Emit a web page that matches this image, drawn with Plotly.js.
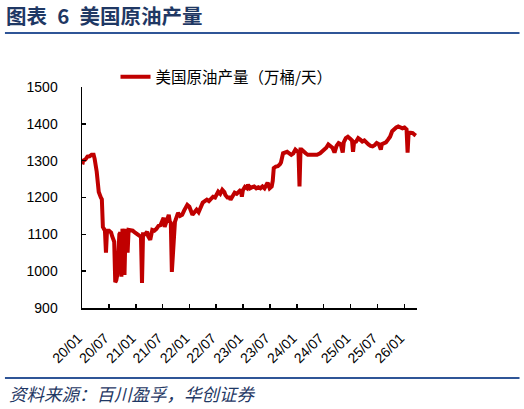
<!DOCTYPE html>
<html>
<head>
<meta charset="utf-8">
<script src="https://cdn.plot.ly/plotly-3.0.1.min.js"></script>
<style>html,body{margin:0;padding:0;background:#fff;}#chart{width:524px;height:409px;}</style>
</head>
<body>
<div id="chart"></div>
<script>
const seriesName = "美国原油产量（万桶/天）";
const chartTitle = "图表\u20026\u2002美国原油产量";
const sourceText = "资料来源：百川盈孚，华创证券";

const dates = [
"2020-01-03","2020-01-10","2020-01-24","2020-02-07","2020-02-21","2020-03-06","2020-03-20","2020-03-27",
"2020-04-10","2020-04-17","2020-04-24","2020-05-08","2020-05-15","2020-05-22","2020-05-29","2020-06-05",
"2020-06-12","2020-06-19","2020-07-03","2020-07-17","2020-07-24","2020-07-31","2020-08-07","2020-08-14",
"2020-08-21","2020-08-28","2020-09-04","2020-09-11","2020-09-18","2020-09-25","2020-10-02","2020-10-09",
"2020-10-16","2020-10-23","2020-10-30","2020-11-06","2020-11-13","2020-11-27","2020-12-11","2020-12-25",
"2021-01-08","2021-01-22","2021-02-05","2021-02-12","2021-02-19","2021-03-05","2021-03-19","2021-03-26",
"2021-04-09","2021-04-23","2021-05-07","2021-05-21","2021-06-04","2021-06-18","2021-07-02","2021-07-09",
"2021-07-16","2021-07-30","2021-08-13","2021-08-20","2021-08-27","2021-09-03","2021-09-17","2021-09-24",
"2021-10-08","2021-10-15","2021-10-29","2021-11-12","2021-11-26","2021-12-10","2021-12-17","2021-12-31",
"2022-01-07","2022-01-21","2022-02-04","2022-02-18","2022-03-04","2022-03-18","2022-04-01","2022-04-15",
"2022-04-29","2022-05-13","2022-05-27","2022-06-10","2022-06-24","2022-07-08","2022-07-15","2022-07-29",
"2022-08-12","2022-08-26","2022-09-02","2022-09-16","2022-09-30","2022-10-07","2022-10-21","2022-11-04",
"2022-11-18","2022-12-02","2022-12-16","2022-12-23","2022-12-30","2023-01-13","2023-01-27","2023-02-03",
"2023-02-17","2023-03-03","2023-03-17","2023-03-31","2023-04-14","2023-04-28","2023-05-12","2023-05-26",
"2023-06-09","2023-06-16","2023-06-30","2023-07-14","2023-07-21","2023-07-28","2023-08-11","2023-08-25",
"2023-09-08","2023-09-15","2023-09-29","2023-10-13","2023-10-27","2023-11-10","2023-11-24","2023-12-08",
"2023-12-22","2024-01-05","2024-01-12","2024-01-19","2024-01-26","2024-02-02","2024-02-16","2024-03-01",
"2024-03-15","2024-04-05","2024-04-26","2024-05-17","2024-06-07","2024-06-21","2024-07-05","2024-07-19",
"2024-08-02","2024-08-16","2024-08-30","2024-09-13","2024-09-27","2024-10-11","2024-10-25","2024-11-08",
"2024-11-15","2024-11-29","2024-12-13","2024-12-27","2025-01-10","2025-01-17","2025-01-24","2025-02-07",
"2025-02-21","2025-03-07","2025-03-21","2025-04-04","2025-04-18","2025-05-02","2025-05-16","2025-05-30",
"2025-06-13","2025-06-27","2025-07-11","2025-07-25","2025-08-01","2025-08-15","2025-08-29","2025-09-12",
"2025-09-26","2025-10-10","2025-10-24","2025-11-07","2025-11-21","2025-12-05","2025-12-19","2026-01-02",
"2026-01-16","2026-01-23","2026-01-30","2026-02-13","2026-02-27","2026-03-13","2026-03-20"
];

const production = [
1290,1300,1303,1311,1312,1316,1316,1305,
1270,1240,1215,1200,1195,1120,1115,1110,
1050,1110,1110,1105,1095,1085,1080,970,
975,990,1093,1100,1105,985,1115,1100,
990,1110,1110,1050,1112,1110,1110,1105,
1100,1095,1093,968,1100,1100,1107,1095,
1085,1112,1110,1115,1123,1125,1140,1145,
1120,1135,1153,1135,1131,998,1110,1134,
1150,1158,1150,1153,1165,1175,1180,1175,
1167,1153,1160,1167,1160,1175,1186,1190,
1194,1190,1195,1202,1200,1210,1216,1210,
1221,1215,1207,1200,1200,1194,1205,1213,
1210,1215,1221,1202,1220,1229,1225,1235,
1225,1228,1230,1225,1228,1225,1230,1225,
1235,1240,1225,1230,1245,1280,1284,1285,
1290,1295,1320,1322,1324,1320,1316,1320,
1330,1325,1325,1230,1330,1330,1324,1320,
1316,1316,1316,1316,1320,1325,1330,1335,
1344,1340,1335,1322,1340,1348,1345,1322,
1350,1361,1365,1360,1355,1324,1350,1352,
1361,1357,1352,1355,1348,1344,1340,1339,
1342,1348,1345,1330,1345,1348,1350,1357,
1365,1380,1386,1390,1393,1390,1388,1390,
1385,1322,1376,1376,1375,1370,1368
];

const tickDates = ["2020-01-01","2020-07-01","2021-01-01","2021-07-01","2022-01-01","2022-07-01","2023-01-01","2023-07-01","2024-01-01","2024-07-01","2025-01-01","2025-07-01","2026-01-01"];
const tickLabels = ["20/01","20/07","21/01","21/07","22/01","22/07","23/01","23/07","24/01","24/07","25/01","25/07","26/01"];
const xRange = ["2020-01-01","2026-03-28"];
const yRange = [900,1500];

const cjk = '"Noto Sans CJK SC", "Noto Sans", sans-serif';
const latin = '"Liberation Sans", Arial, sans-serif';

const trace = {
  x: dates, y: production, type: 'scatter', mode: 'lines', name: seriesName,
  line: {color: '#C00000', width: 4}
};

const layout = {
  width: 524, height: 409,
  margin: {l: 82, r: 107, t: 87, b: 101, pad: 0},
  paper_bgcolor: '#ffffff', plot_bgcolor: '#ffffff',
  showlegend: true,
  legend: {orientation: 'h', x: 0.10, xanchor: 'left', y: 1.045, yanchor: 'middle',
           font: {family: cjk, size: 15.5, color: '#000'}, bgcolor: 'rgba(0,0,0,0)', borderwidth: 0},
  xaxis: {
    type: 'date', range: xRange, tickmode: 'array', tickvals: tickDates, ticktext: tickLabels,
    tickangle: -45, ticks: 'inside', ticklen: 4, tickwidth: 1.5, tickcolor: '#000',
    showline: true, linecolor: '#000', linewidth: 1.5, showgrid: false, zeroline: false,
    tickfont: {family: latin, size: 14, color: '#000'}, ticklabelstandoff: 15, ticklabelshift: -4,
    fixedrange: true
  },
  yaxis: {
    range: yRange, tickmode: 'linear', tick0: 900, dtick: 100,
    ticks: 'inside', ticklen: 4, tickwidth: 1.5, tickcolor: '#000',
    showline: true, linecolor: '#000', linewidth: 1.5, showgrid: false, zeroline: false,
    tickfont: {family: latin, size: 14, color: '#000'}, ticklabelstandoff: 20, fixedrange: true
  },
  shapes: [
    {type: 'line', xref: 'paper', yref: 'paper', x0: -0.230, x1: 1.306, y0: 1.2443, y1: 1.2443,
     line: {color: '#2F5597', width: 2}},
    {type: 'line', xref: 'paper', yref: 'paper', x0: -0.230, x1: 1.306, y0: -0.3167, y1: -0.3167,
     line: {color: '#2F5597', width: 2}}
  ],
  annotations: [
    {text: '<b>' + chartTitle + '</b>', xref: 'paper', yref: 'paper', x: -0.234, y: 1.325,
     xanchor: 'left', yanchor: 'middle', showarrow: false,
     font: {family: cjk, size: 20.5, color: '#1F3864'}},
    {text: '<i>' + sourceText + '</i>', xref: 'paper', yref: 'paper', x: -0.224, y: -0.389,
     xanchor: 'left', yanchor: 'middle', showarrow: false,
     font: {family: cjk, size: 17.5, color: '#1F3864'}}
  ]
};

Plotly.newPlot('chart', [trace], layout, {displayModeBar: false, staticPlot: true});
</script>
</body>
</html>
